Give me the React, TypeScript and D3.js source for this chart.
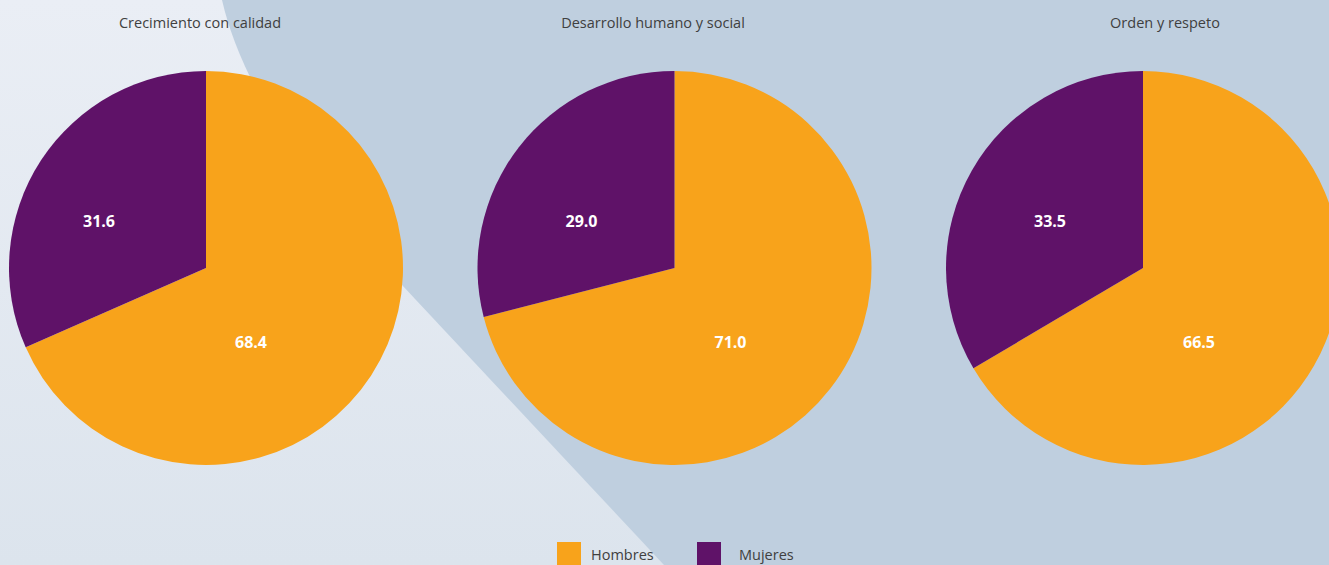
import { useEffect, useRef } from 'react';
import * as d3 from 'd3';

// Datos (porcentaje por sexo en cada eje)
const ejes = ['Crecimiento con calidad', 'Desarrollo humano y social', 'Orden y respeto'];
const hombres = [68.4, 71.0, 66.5];
const mujeres = [31.6, 29.0, 33.5];
const series = ['Hombres', 'Mujeres'];

const W = 1329;
const H = 565;
const colores: Record<string, string> = { Hombres: '#f8a31b', Mujeres: '#5f1268' };

export default function App() {
  const svgRef = useRef<SVGSVGElement>(null);

  useEffect(() => {
    if (!svgRef.current) return;
    const svg = d3.select(svgRef.current);
    svg.selectAll('*').remove();

    // Fondo
    const defs = svg.append('defs');
    const grad = defs.append('linearGradient').attr('id', 'bg').attr('x1', 0).attr('y1', 0).attr('x2', 0).attr('y2', 1);
    grad.append('stop').attr('offset', '0%').attr('stop-color', '#eaeef5');
    grad.append('stop').attr('offset', '100%').attr('stop-color', '#dce4ed');
    svg.append('rect').attr('width', W).attr('height', H).attr('fill', 'url(#bg)');
    svg.append('path')
      .attr('d', `M222,0 Q250,122 402,285 L664,${H} L${W},${H} L${W},0 Z`)
      .attr('fill', '#bfcfdf');

    const x = d3.scalePoint<string>().domain(ejes).range([206, 1143]);
    const r = 197;
    const cy = 268;
    const titleX = [200, 653, 1165];

    const pie = d3.pie<{ k: string; v: number }>().value(d => d.v).sort(null);
    const arc = d3.arc<d3.PieArcDatum<{ k: string; v: number }>>().innerRadius(0).outerRadius(r);

    ejes.forEach((eje, i) => {
      const data = [
        { k: 'Hombres', v: hombres[i] },
        { k: 'Mujeres', v: mujeres[i] },
      ];
      const cx = x(eje) as number;
      const g = svg.append('g').attr('transform', `translate(${cx},${cy})`);
      g.selectAll('path')
        .data(pie(data))
        .enter()
        .append('path')
        .attr('d', arc)
        .attr('fill', d => colores[d.data.k]);

      // etiquetas
      const offs = i === 0 ? [[45, 74], [-107, -47]] : [[56, 74], [-93, -47]];
      data.forEach((d, j) => {
        g.append('text')
          .attr('x', offs[j][0])
          .attr('y', offs[j][1])
          .attr('text-anchor', 'middle')
          .attr('dominant-baseline', 'central')
          .attr('fill', '#fff')
          .attr('font-family', 'Open Sans, sans-serif')
          .attr('font-weight', 700)
          .attr('font-size', 16)
          .text(d.v.toFixed(1));
      });

      svg.append('text')
        .attr('x', titleX[i])
        .attr('y', 28)
        .attr('text-anchor', 'middle')
        .attr('fill', '#404040')
        .attr('font-family', 'Open Sans, sans-serif')
        .attr('font-weight', 400)
        .attr('font-size', 14.5)
        .text(eje);
    });

    // Leyenda
    const lx = [557, 697];
    const tx = [591, 739];
    series.forEach((s, i) => {
      svg.append('rect')
        .attr('x', lx[i])
        .attr('y', 542)
        .attr('width', 24)
        .attr('height', 24)
        .attr('fill', colores[s]);
      svg.append('text')
        .attr('x', tx[i])
        .attr('y', 560)
        .attr('fill', '#404040')
        .attr('font-family', 'Open Sans, sans-serif')
        .attr('font-weight', 400)
        .attr('font-size', 14.5)
        .text(s);
    });
  }, []);

  return (
    <div style={{ position: 'absolute', left: 0, top: 0 }}>
      <svg ref={svgRef} width={W} height={H} style={{ display: 'block' }} />
    </div>
  );
}
